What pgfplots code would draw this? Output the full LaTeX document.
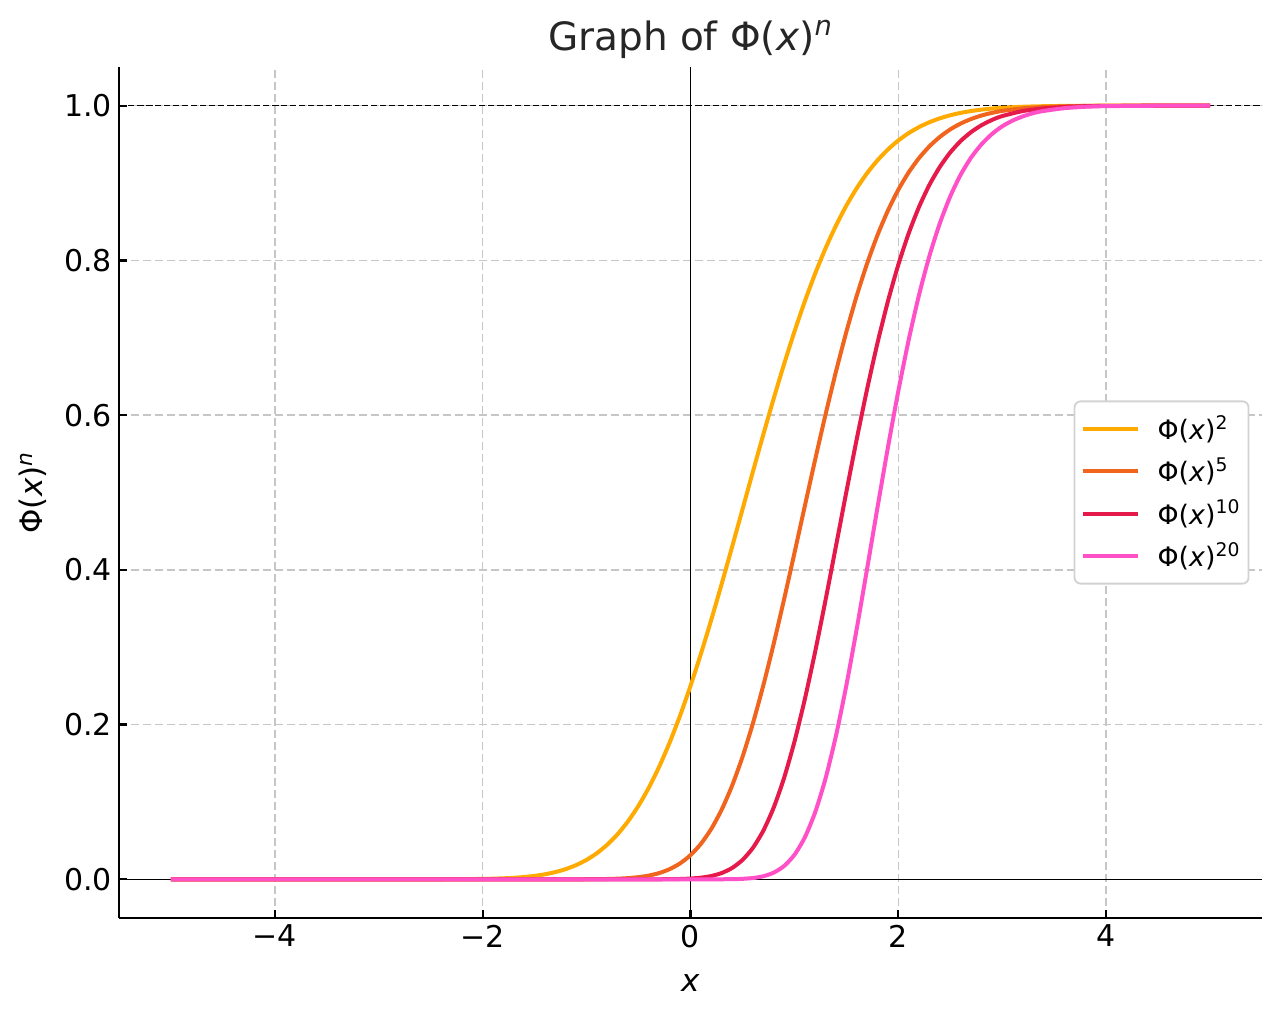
\documentclass[border=0pt]{standalone}
\usepackage{fontspec}
\setmainfont{DejaVu Sans}
\usepackage{pgfplots}
\pgfplotsset{compat=1.18}
\definecolor{cA}{RGB}{255,170,0}
\definecolor{cB}{RGB}{240,100,30}
\definecolor{cC}{RGB}{230,25,75}
\definecolor{cD}{RGB}{255,80,200}
\newcommand\phix[1]{Φ(\textit{x})\textsuperscript{#1}}
\begin{document}
\begin{tikzpicture}
\begin{axis}[
  scale only axis, width=571.5pt, height=425.5pt,
  xmin=-5.5, xmax=5.5, ymin=-0.05, ymax=1.05,
  axis x line*=bottom, axis y line*=left,
  axis line style={line width=1.1pt, -},
  tick style={black, line width=1.1pt},
  tick align=inside, major tick length=4pt,
  xtick={-4,-2,0,2,4}, xticklabels={−4,−2,0,2,4},
  ytick={0,0.2,0.4,0.6,0.8,1.0}, yticklabels={0.0,0.2,0.4,0.6,0.8,1.0},
  ticklabel style={font=\fontsize{15}{17}\selectfont},
  grid=major, major grid style={gray!45, line width=0.7pt, dash pattern=on 4pt off 2pt},
  title={Graph of \phix{\textit{n}}}, title style={text=black!85, font=\fontsize{19.5}{22}\selectfont, at={(axis description cs:0.5,1)}, anchor=center, yshift=8pt},
  xlabel={\textit{x}}, xlabel style={font=\fontsize{15.5}{18}\selectfont, at={(axis description cs:0.5,-0.0764)}, anchor=center},
  ylabel={\phix{\textit{n}}}, ylabel style={font=\fontsize{15.5}{18}\selectfont, at={(axis description cs:-0.0752,0.5)}, anchor=center},
  legend cell align=left,
  legend style={at={(axis description cs:0.989,0.5)}, anchor=east, draw=gray!35, rounded corners=3pt, fill=white, line width=0.9pt, font=\fontsize{13.4}{15}\selectfont, row sep=3.5pt, inner xsep=3pt, inner ysep=5pt, nodes={inner xsep=1pt}},
  legend image code/.code={\draw[#1] (1.5pt,0pt) -- (29pt,0pt); \path (37pt,0pt);},
  every axis plot post/.append style={smooth, tension=0.4},
]
\addplot[black, line width=0.6pt, forget plot, sharp plot] coordinates {(-5.5,0) (5.5,0)};
\addplot[black, line width=0.6pt, dash pattern=on 3pt off 1.5pt, forget plot, sharp plot] coordinates {(-5.5,1) (5.5,1)};
\addplot[black, line width=0.6pt, forget plot, sharp plot] coordinates {(0,-0.05) (0,1.05)};
\addplot[cA, line width=2pt] table {
x y
-5 0
-4.5 0
-4 0
-3.5 0.0000001
-3 0.0000018
-2.5 0.0000386
-2.2 0.000193
-2.0 0.000518
-1.9 0.000825
-1.8 0.001291
-1.7 0.001986
-1.6 0.003003
-1.5 0.004464
-1.4 0.006522
-1.3 0.009370
-1.2 0.013241
-1.1 0.018406
-1.0 0.025173
-0.9 0.033878
-0.8 0.044885
-0.7 0.058545
-0.6 0.075213
-0.5 0.095197
-0.4 0.118735
-0.3 0.145993
-0.2 0.177022
-0.1 0.211756
0.0 0.25
0.1 0.291416
0.2 0.335542
0.3 0.381813
0.4 0.429575
0.5 0.478117
0.6 0.526713
0.7 0.574625
0.8 0.621165
0.9 0.665758
1.0 0.707853
1.1 0.747066
1.2 0.783101
1.3 0.815770
1.4 0.844982
1.5 0.870844
1.6 0.893403
1.7 0.912846
1.8 0.929431
1.9 0.943385
2.0 0.955018
2.1 0.964599
2.2 0.972393
2.3 0.978675
2.4 0.983667
2.5 0.987619
2.6 0.990702
2.7 0.993072
2.8 0.994886
2.9 0.996264
3.0 0.997302
3.2 0.998620
3.4 0.999320
3.6 0.999680
3.8 0.999860
4.0 0.999940
4.5 0.999993
5.0 1.0
};
\addlegendentry{\phix{2}}
\addplot[cB, line width=2pt] table {
x y
-5 0
-4 0
-3 0
-2 0
-1.5 0.0000013
-1.2 0.0000202
-1.0 0.0001005
-0.9 0.000211
-0.8 0.000427
-0.7 0.000829
-0.6 0.001551
-0.5 0.002796
-0.4 0.004858
-0.3 0.008144
-0.2 0.013185
-0.1 0.020634
0.0 0.03125
0.1 0.045844
0.2 0.065218
0.3 0.090079
0.4 0.120948
0.5 0.158065
0.6 0.201343
0.7 0.250301
0.8 0.304101
0.9 0.361652
1.0 0.421558
1.1 0.482390
1.2 0.542681
1.3 0.601062
1.4 0.656334
1.5 0.707702
1.6 0.754429
1.7 0.796148
1.8 0.832804
1.9 0.864415
2.0 0.891310
2.1 0.913833
2.2 0.932405
2.3 0.947537
2.4 0.959667
2.5 0.969334
2.6 0.976916
2.7 0.982770
2.8 0.987264
2.9 0.990686
3.0 0.993266
3.2 0.996550
3.4 0.998300
3.6 0.999200
3.8 0.999650
4.0 0.999850
4.5 0.999985
5.0 1.0
};
\addlegendentry{\phix{5}}
\addplot[cC, line width=2pt] table {
x y
-5 0
-4 0
-3 0
-2 0
-1 0
-0.7 0.0000007
-0.5 0.0000078
-0.4 0.0000236
-0.3 0.0000663
-0.2 0.000174
-0.1 0.000426
0.0 0.000977
0.1 0.002102
0.2 0.004253
0.3 0.008114
0.4 0.014628
0.5 0.024985
0.6 0.040539
0.7 0.062651
0.8 0.092477
0.9 0.130792
1.0 0.177711
1.1 0.232700
1.2 0.294503
1.3 0.361276
1.4 0.430774
1.5 0.500842
1.6 0.569163
1.7 0.633852
1.8 0.693562
1.9 0.747213
2.0 0.794434
2.1 0.835091
2.2 0.869379
2.3 0.897826
2.4 0.920961
2.5 0.939608
2.6 0.954365
2.7 0.965837
2.8 0.974690
2.9 0.981459
3.0 0.986577
3.2 0.993110
3.4 0.996600
3.6 0.998400
3.8 0.999300
4.0 0.999700
4.5 0.999970
5.0 1.0
};
\addlegendentry{\phix{10}}
\addplot[cD, line width=2pt] table {
x y
-5 0
-4 0
-3 0
-2 0
-1 0
-0.5 0
0 0.000001
0.1 0.0000044
0.2 0.0000181
0.3 0.0000658
0.4 0.000214
0.5 0.000624
0.6 0.001643
0.7 0.003925
0.8 0.008552
0.9 0.017107
1.0 0.031581
1.1 0.054149
1.2 0.086732
1.3 0.130520
1.4 0.185566
1.5 0.250843
1.6 0.323947
1.7 0.401768
1.8 0.481028
1.9 0.558327
2.0 0.631125
2.1 0.697377
2.2 0.755820
2.3 0.806092
2.4 0.848169
2.5 0.882863
2.6 0.910812
2.7 0.932841
2.8 0.950021
2.9 0.963262
3.0 0.973334
3.1 0.980780
3.2 0.986270
3.3 0.990440
3.4 0.993220
3.6 0.996800
3.8 0.998600
4.0 0.999400
4.5 0.999930
5.0 1.0
};
\addlegendentry{\phix{20}}
\end{axis}
\path (current axis.south west) ++(-59.5pt,-49.5pt) coordinate (bl);
\path (current axis.north east) ++(9pt,33.5pt) coordinate (tr);
\useasboundingbox (bl) rectangle (tr);
\end{tikzpicture}
\end{document}
